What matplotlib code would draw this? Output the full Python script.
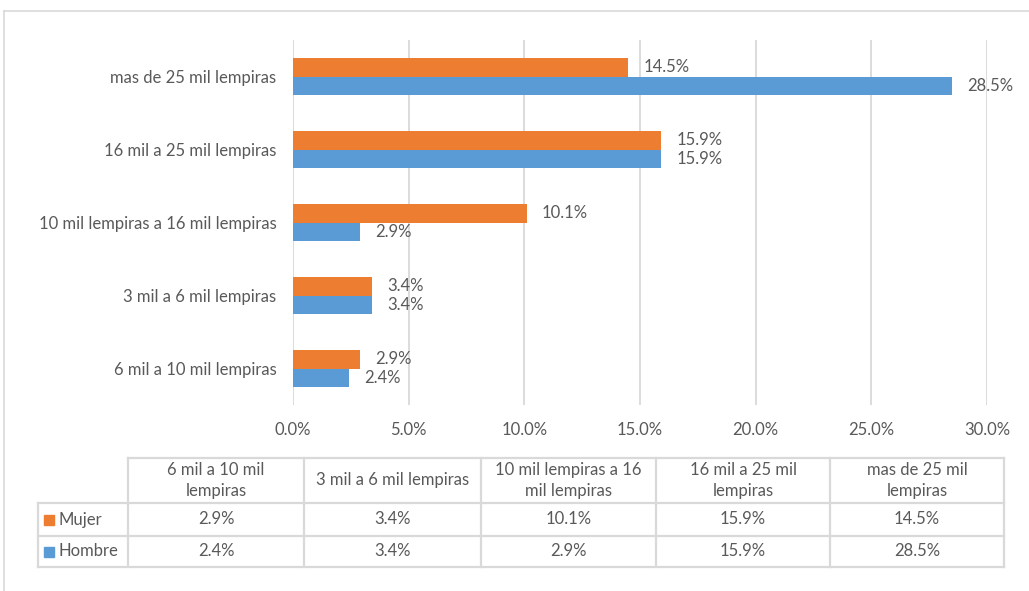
import matplotlib.pyplot as plt
from matplotlib.lines import Line2D
from matplotlib.patches import Rectangle
import numpy as np

plt.rcParams['font.family'] = ['Lato', 'DejaVu Sans']

# data (bottom to top on the chart)
categorias = ["6 mil a 10 mil lempiras", "3 mil a 6 mil lempiras",
              "10 mil lempiras a 16 mil lempiras", "16 mil a 25 mil lempiras",
              "mas de 25 mil lempiras"]
cabecera_tabla = ["6 mil a 10 mil\nlempiras", "3 mil a 6 mil lempiras",
                  "10 mil lempiras a 16\nmil lempiras", "16 mil a 25 mil\nlempiras",
                  "mas de 25 mil\nlempiras"]
mujer = [2.9, 3.4, 10.1, 15.9, 14.5]
hombre = [2.4, 3.4, 2.9, 15.9, 28.5]
xticks = [0, 5, 10, 15, 20, 25, 30]

naranja = '#ED7D31'
azul = '#5B9BD5'
gris = '#595959'
linea = '#D9D9D9'
fs = 12

W, H = 1029, 591
fig = plt.figure(figsize=(W / 100, H / 100), dpi=100)

def fx(px):
    return px / W

def fy(py):
    return 1 - py / H

ax = fig.add_axes([fx(293), fy(405), fx(987) - fx(293), fy(40) - fy(405)])
y = np.arange(len(categorias))
h = 0.25
ax.barh(y + h / 2, mujer, height=h, color=naranja, zorder=3)
ax.barh(y - h / 2, hombre, height=h, color=azul, zorder=3)

for yi, m, hb in zip(y, mujer, hombre):
    ax.annotate(f"{m:.1f}%", (m, yi + h / 2), xytext=(11, 0), textcoords='offset points',
                va='center', ha='left', fontsize=fs, color=gris)
    ax.annotate(f"{hb:.1f}%", (hb, yi - h / 2), xytext=(11, 0), textcoords='offset points',
                va='center', ha='left', fontsize=fs, color=gris)

ax.set_xlim(0, 30)
ax.set_ylim(-0.5, len(categorias) - 0.5)
ax.set_xticks(xticks)
ax.set_xticklabels([f"{t:.1f}%" for t in xticks], fontsize=fs, color=gris)
ax.set_yticks(y)
ax.set_yticklabels(categorias, fontsize=fs, color=gris)
ax.tick_params(length=0)
ax.tick_params(axis='x', pad=12)
ax.tick_params(axis='y', pad=12)
ax.grid(axis='x', color=linea, lw=1.3, zorder=0)
for s in ax.spines.values():
    s.set_visible(False)

# outer frame (top and left edges)
fig.add_artist(Line2D([fx(4), fx(W)], [fy(11), fy(11)], color=linea, lw=1.2))
fig.add_artist(Line2D([fx(4), fx(4)], [fy(11), fy(H)], color=linea, lw=1.2))

# data table under the chart
cols = [38, 128, 304, 481, 656, 830, 1004]
rows = [458, 503, 536, 567]
lw = 1.6
for r in rows:
    x0 = cols[1] if r == rows[0] else cols[0]
    fig.add_artist(Line2D([fx(x0), fx(cols[-1])], [fy(r), fy(r)], color=linea, lw=lw))
for i, c in enumerate(cols):
    y0 = rows[1] if i == 0 else rows[0]
    fig.add_artist(Line2D([fx(c), fx(c)], [fy(y0), fy(rows[-1])], color=linea, lw=lw))

for i, txt in enumerate(cabecera_tabla):
    cx = (cols[i + 1] + cols[i + 2]) / 2
    fig.text(fx(cx), fy((rows[0] + rows[1]) / 2), txt, ha='center', va='center',
             fontsize=fs, color=gris, linespacing=1.45)

series = [("Mujer", mujer, naranja), ("Hombre", hombre, azul)]
for k, (nombre, vals, col) in enumerate(series):
    cy = (rows[k + 1] + rows[k + 2]) / 2
    fig.add_artist(Rectangle((fx(44), fy(cy + 5)), fx(10), fy(0) - fy(10),
                             color=col, transform=fig.transFigure))
    fig.text(fx(59), fy(cy), nombre, ha='left', va='center', fontsize=fs, color=gris)
    for i, v in enumerate(vals):
        cx = (cols[i + 1] + cols[i + 2]) / 2
        fig.text(fx(cx), fy(cy), f"{v:.1f}%", ha='center', va='center',
                 fontsize=fs, color=gris)

fig.savefig('out.png', dpi=100)
